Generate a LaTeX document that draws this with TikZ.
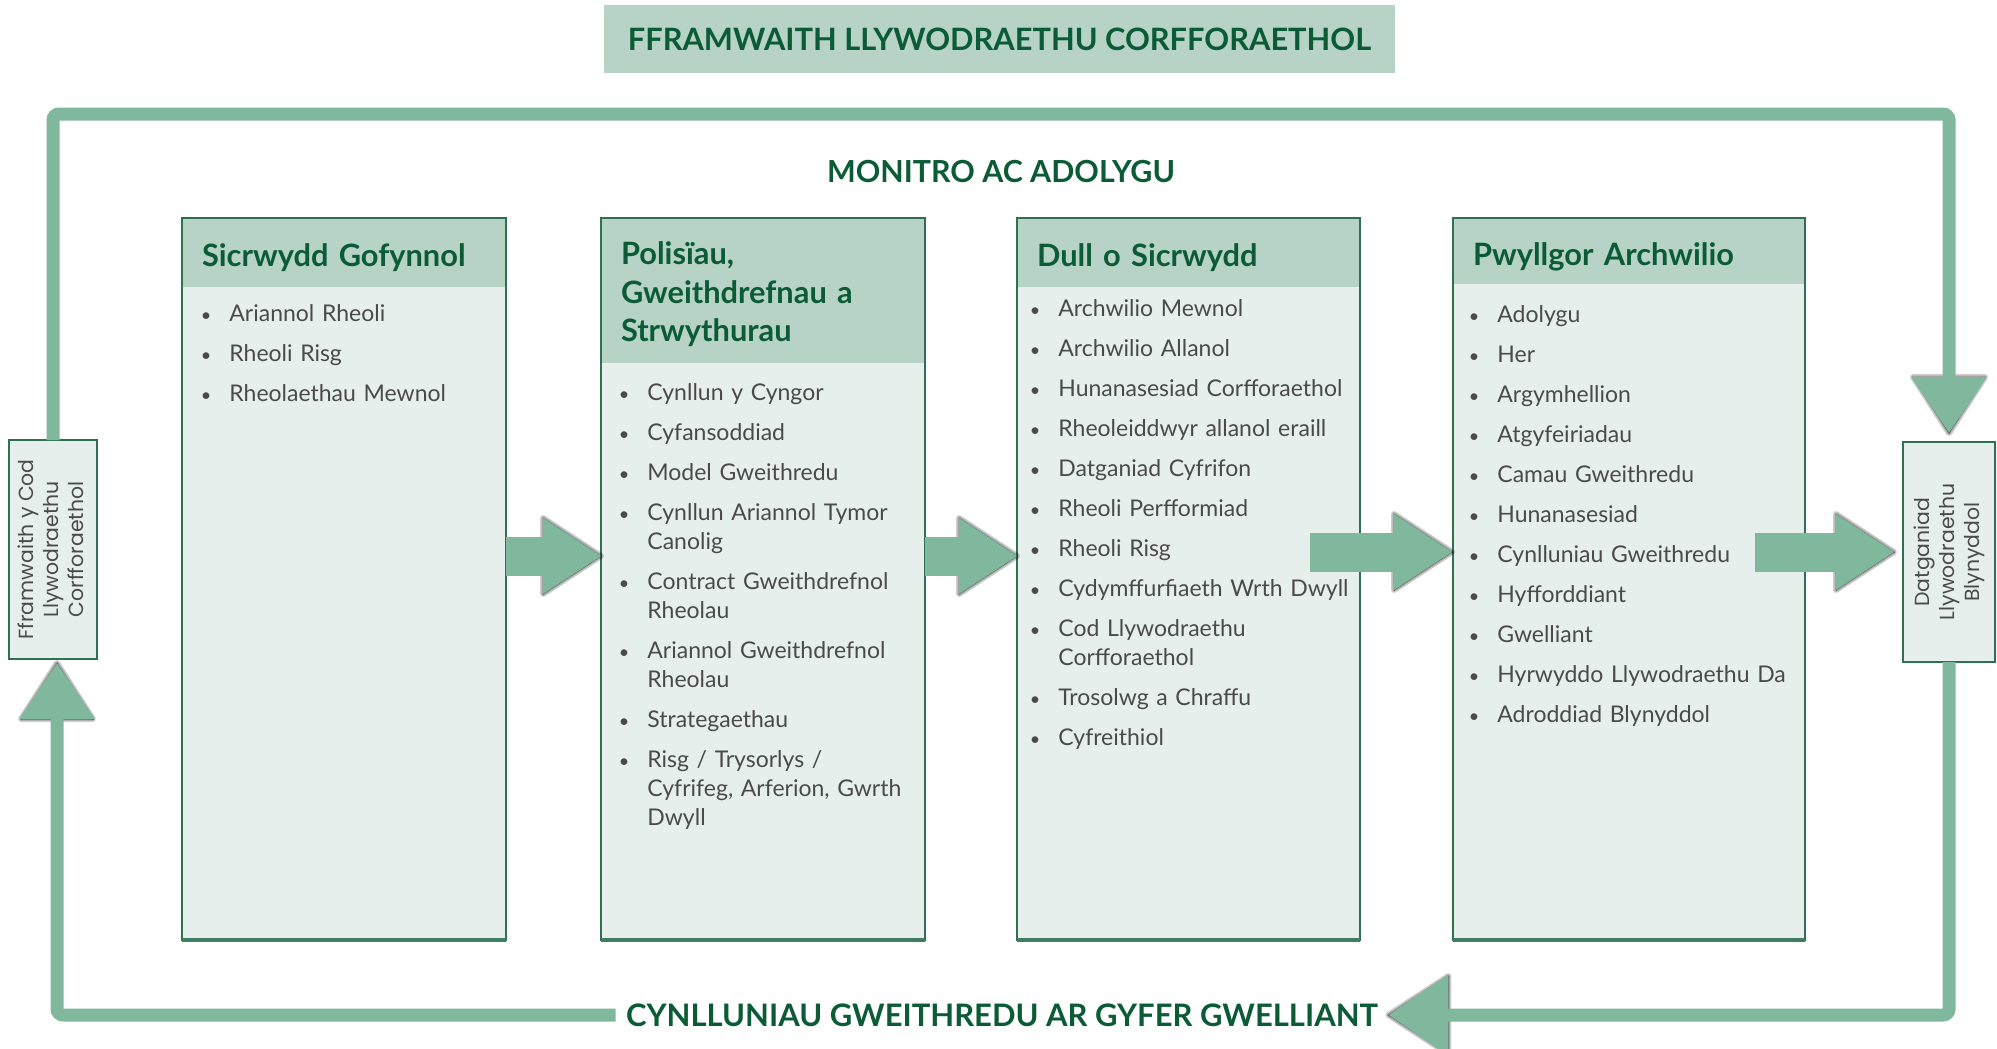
\documentclass[tikz,border=0pt]{standalone}
\usepackage{fontspec}
\setmainfont{Lato}
\newfontfamily\sidefont{Poppins}
\usepackage{graphicx}
\usepackage{enumitem}
\usetikzlibrary{arrows.meta,calc}
\definecolor{rim}{HTML}{80B89D}
\definecolor{headfill}{HTML}{B7D3C5}
\definecolor{bodyfill}{HTML}{E6EFEB}
\definecolor{edge}{HTML}{2F6F52}
\definecolor{darkgreen}{HTML}{0B5B37}
\definecolor{itemgray}{HTML}{4A4A4A}
\setlist[itemize]{label={\small\textbullet}, leftmargin=17.5pt, labelsep=9pt,
  topsep=0pt, partopsep=0pt, parsep=0pt, itemsep=5.5pt}
% soft shadow under an arrow head: shift, then three corners
\newcommand{\headshadow}[4]{%
  \foreach \w in {3,1.5,0}{
    \filldraw[black, opacity=0.2, line width=\w pt, line join=round, shift={#1}]
      #2 -- #3 -- #4 -- cycle;}}

\begin{document}
\begin{tikzpicture}[x=0.5pt, y=-0.5pt,
    rimline/.style={draw=rim, line width=6.5pt, rounded corners=3pt},
    rimtip/.style={-{Triangle[width=36pt,length=28pt]}},
    flow/.style={fill=rim},
    caption/.style={font=\bfseries\fontsize{15.2}{17}\selectfont, text=darkgreen},
    sidebox/.style={draw=edge, line width=0.75pt, fill=bodyfill, outer sep=0pt,
      inner sep=0pt, font=\sidefont\fontsize{10.2}{12.5}\selectfont, text=itemgray},
    panel/.style={fill=bodyfill, minimum height=361pt, outer sep=0pt, inner sep=0pt},
    head/.style={fill=headfill, inner xsep=10pt, inner ysep=0pt, outer sep=0pt,
      text height=14pt, text depth=0pt, align=left, text=darkgreen,
      font=\bfseries\fontsize{15.4}{19.25}\selectfont},
    list/.style={text width=200pt, inner sep=0pt, align=left, text=itemgray,
      font=\fontsize{11.5}{14.5}\selectfont}]
  \useasboundingbox (0,0) rectangle (1997,1049);

  % Title
  \node[fill=headfill, minimum width=395.5pt, minimum height=34pt, text=darkgreen,
    font=\bfseries\fontsize{15.4}{18}\selectfont] (title) at (999.5,39)
    {FFRAMWAITH LLYWODRAETHU CORFFORAETHOL};
  \node[caption] (monitor) at (1001,172) {MONITRO AC ADOLYGU};
  \node[caption, font=\bfseries\fontsize{15.5}{17}\selectfont, inner xsep=5pt] (plan)
    at (1002,1015) {CYNLLUNIAU GWEITHREDU AR GYFER GWELLIANT};

  % Side boxes
  \node[sidebox, minimum width=44pt, minimum height=109.5pt] (frame) at (53,549.5)
    {\rotatebox{90}{\begin{tabular}{@{}c@{}}Fframwaith y Cod\\Llywodraethu\\Corfforaethol\end{tabular}}};
  \node[sidebox, minimum width=46pt, minimum height=110pt] (statement) at (1949,552)
    {\rotatebox{90}{\begin{tabular}{@{}c@{}}Datganiad\\Llywodraethu\\Blynyddol\end{tabular}}};

  % Panels
  \node[panel, minimum width=162pt, anchor=north west] (panel1) at (182,218) {};
  \node[panel, minimum width=162pt, anchor=north west] (panel2) at (601,218) {};
  \node[panel, minimum width=171.5pt, anchor=north west] (panel3) at (1017,218) {};
  \node[panel, minimum width=176pt, anchor=north west] (panel4) at (1453,218) {};

  \node[head, text width=142pt, minimum height=34.5pt, anchor=north west] (head1)
    at (panel1.north west) {Sicrwydd Gofynnol};
  \node[head, text width=142pt, minimum height=72.5pt, text height=11.6pt,
    text depth=37.5pt, anchor=north west] (head2)
    at (panel2.north west) {Polisïau,\\Gweithdrefnau a\\Strwythurau};
  \node[head, text width=151.5pt, minimum height=34.5pt, anchor=north west] (head3)
    at (panel3.north west) {Dull o Sicrwydd};
  \node[head, text width=156pt, minimum height=33pt, anchor=north west] (head4)
    at (panel4.north west) {Pwyllgor Archwilio};

  \foreach \p in {panel1,panel2,panel3,panel4}{
    \draw[edge, line width=0.6pt] (\p.south west) rectangle (\p.north east);
    \draw[edge!80!rim, line width=2pt] (\p.south west) -- (\p.south east);
  }

  % Lists
  \node[list, anchor=north west] (list1) at ($(head1.south west)+(12,5)$) {%
    \begin{itemize}
      \item Ariannol Rheoli
      \item Rheoli Risg
      \item Rheolaethau Mewnol
    \end{itemize}};
  \node[list, anchor=north west] (list2) at ($(head2.south west)+(11,8)$) {%
    \begin{itemize}
      \item Cynllun y Cyngor
      \item Cyfansoddiad
      \item Model Gweithredu
      \item Cynllun Ariannol Tymor\newline Canolig
      \item Contract Gweithdrefnol\newline Rheolau
      \item Ariannol Gweithdrefnol\newline Rheolau
      \item Strategaethau
      \item Risg / Trysorlys /\newline Cyfrifeg, Arferion, Gwrth\newline Dwyll
    \end{itemize}};
  \node[list, anchor=north west] (list3) at ($(head3.south west)+(6,0)$) {%
    \begin{itemize}
      \item Archwilio Mewnol
      \item Archwilio Allanol
      \item Hunanasesiad Corfforaethol
      \item Rheoleiddwyr allanol eraill
      \item Datganiad Cyfrifon
      \item Rheoli Perfformiad
      \item Rheoli Risg
      \item Cydymffurfiaeth Wrth Dwyll
      \item Cod Llywodraethu\newline Corfforaethol
      \item Trosolwg a Chraffu
      \item Cyfreithiol
    \end{itemize}};
  \node[list, anchor=north west] (list4) at ($(head4.south west)+(9,9)$) {%
    \begin{itemize}
      \item Adolygu
      \item Her
      \item Argymhellion
      \item Atgyfeiriadau
      \item Camau Gweithredu
      \item Hunanasesiad
      \item Cynlluniau Gweithredu
      \item Hyfforddiant
      \item Gwelliant
      \item Hyrwyddo Llywodraethu Da
      \item Adroddiad Blynyddol
    \end{itemize}};

  % Block arrows
  \foreach \from/\to/\back/\gap/\lev in {panel1/panel2/0/0/556, panel2/panel3/0/0/556,
      panel3/panel4/50/1/552, panel4/statement/50/9/552}{
    \path ($(\from.east |- 0,\lev)+(-\back,0)$) coordinate (s)
          ($(\to.west |- 0,\lev)+(-\gap,0)$) coordinate (t)
          ($(t)+(-58,0)$) coordinate (b);
    \headshadow{(4,6)}{($(b)+(0,-38)$)}{(t)}{($(b)+(0,38)$)}
    \fill[flow] ($(s)+(0,-19.5)$) rectangle ($(b)+(0.5,19.5)$);
    \fill[flow] ($(b)+(0,-38)$) -- (t) -- ($(b)+(0,38)$) -- cycle;
  }

  % Loop
  \coordinate (rimtop) at (1000,114);
  \headshadow{(6,4)}{($(statement.north)+(-36,-65)$)}{($(statement.north)+(36,-65)$)}{($(statement.north)+(0,-9)$)}
  \headshadow{(-4,6)}{(plan.east)}{($(plan.east)+(60,-39)$)}{($(plan.east)+(60,39)$)}
  \headshadow{(-6,-4)}{($(frame.south)+(4,4)$)}{($(frame.south)+(40,60)$)}{($(frame.south)+(-32,60)$)}
  \draw[rimline, rimtip, shorten >=4.5pt] (frame.north) |- (rimtop) -| (statement.north);
  \draw[rimline, -{Triangle[width=39pt,length=30pt]}] (statement.south) |- (plan.east);
  \draw[rimline, rimtip, shorten >=2pt] (plan.west) -| ($(frame.south)+(4,0)$);
\end{tikzpicture}
\end{document}
